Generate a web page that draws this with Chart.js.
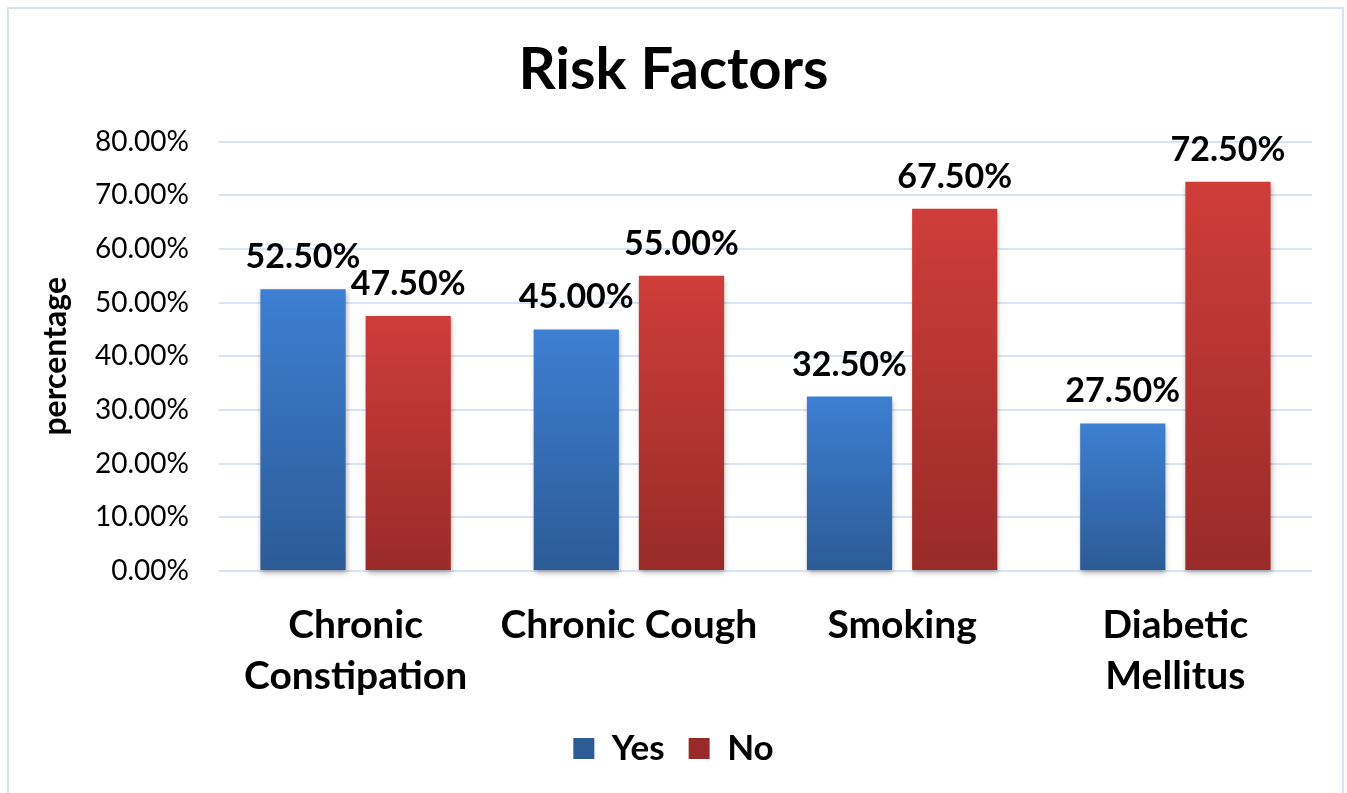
<!DOCTYPE html>
<html>
<head>
<meta charset="utf-8">
<script src="https://cdn.jsdelivr.net/npm/chart.js@4.4.1/dist/chart.umd.min.js"></script>
<style>
  html, body { margin: 0; padding: 0; background: #ffffff; }
  #frame {
    position: absolute; left: 7px; top: 7px; width: 1333px; height: 784px;
    border: 2px solid #d9e2f1; box-sizing: content-box;
  }
  #wrap { position: absolute; left: 0; top: 0; width: 1347px; height: 793px; }
</style>
</head>
<body>
<div id="frame"></div>
<div id="wrap"><canvas id="chart" width="1347" height="793"></canvas></div>
<script>
// Risk factor categories and the share of respondents answering Yes / No
const categories = [["Chronic", "Constipation"], "Chronic Cough", "Smoking", ["Diabetic", "Mellitus"]];
const yesValues = [52.5, 45.0, 32.5, 27.5];
const noValues = [47.5, 55.0, 67.5, 72.5];
const seriesNames = ["Yes", "No"];
const yTicks = [0, 10, 20, 30, 40, 50, 60, 70, 80];

const FONT = "Lato, 'Open Sans', sans-serif";

function fmt(v) { return v.toFixed(2) + "%"; }

// vertical gradient per bar, light at the top, darker toward the base
function barGradient(top, bottom, solid) {
  return function (ctx) {
    const chart = ctx.chart;
    if (ctx.type !== "data" || !chart.chartArea) return solid;
    const ys = chart.scales.y;
    const y0 = ys.getPixelForValue(ctx.raw);
    const y1 = ys.getPixelForValue(0);
    if (!isFinite(y0) || !isFinite(y1) || y0 === y1) return solid;
    const g = chart.ctx.createLinearGradient(0, y0, 0, y1);
    g.addColorStop(0, top);
    g.addColorStop(1, bottom);
    return g;
  };
}

// soft drop shadow under the bars
const barShadow = {
  id: "barShadow",
  beforeDatasetsDraw(chart) {
    const c = chart.ctx;
    c.save();
    c.shadowColor = "rgba(0,0,0,0.30)";
    c.shadowBlur = 5;
    c.shadowOffsetX = 1;
    c.shadowOffsetY = 3;
  },
  afterDatasetsDraw(chart) { chart.ctx.restore(); }
};

// value labels above each bar
const valueLabels = {
  id: "valueLabels",
  afterDatasetsDraw(chart) {
    const c = chart.ctx;
    c.save();
    c.font = "bold 34px " + FONT;
    c.fillStyle = "#000000";
    c.textAlign = "center";
    c.textBaseline = "alphabetic";
    chart.data.datasets.forEach((ds, i) => {
      const meta = chart.getDatasetMeta(i);
      meta.data.forEach((bar, j) => {
        c.fillText(fmt(ds.data[j]), bar.x, bar.y - 21);
      });
    });
    c.restore();
  }
};

new Chart(document.getElementById("chart"), {
  type: "bar",
  data: {
    labels: categories,
    datasets: [
      {
        label: seriesNames[0],
        data: yesValues,
        backgroundColor: barGradient("#3d7fd2", "#2c5b96", "#3570ba"),
        clip: false
      },
      {
        label: seriesNames[1],
        data: noValues,
        backgroundColor: barGradient("#cf3d39", "#982b29", "#bb3633"),
        clip: false
      }
    ]
  },
  options: {
    responsive: false,
    animation: false,
    events: [],
    datasets: { bar: { categoryPercentage: 0.77, barPercentage: 0.81 } },
    layout: { padding: { left: 35, right: 35, top: 0, bottom: 17 } },
    plugins: {
      title: {
        display: true,
        text: "Risk Factors",
        color: "#000000",
        font: { family: FONT, size: 58, weight: "bold", lineHeight: 1.2 },
        padding: { top: 35, bottom: 37 }
      },
      legend: {
        position: "bottom",
        labels: {
          color: "#000000",
          font: { family: FONT, size: 35, weight: "bold" },
          boxWidth: 21,
          boxHeight: 21,
          padding: 24
        }
      },
      tooltip: { enabled: false }
    },
    scales: {
      x: {
        grid: { display: false },
        border: { display: false },
        ticks: {
          color: "#000000",
          font: { family: FONT, size: 39, weight: "bold", lineHeight: 1.33 },
          padding: 20,
          maxRotation: 0,
          autoSkip: false
        },
        afterFit(scale) { scale.height = 136; }
      },
      y: {
        min: yTicks[0],
        max: yTicks[yTicks.length - 1],
        afterBuildTicks(scale) { scale.ticks = yTicks.map(v => ({ value: v })); },
        grid: { color: "#d9e3f2", lineWidth: 2, drawTicks: false },
        border: { display: false },
        ticks: {
          color: "#000000",
          font: { family: FONT, size: 28 },
          padding: 30,
          callback: v => fmt(v)
        },
        title: {
          display: true,
          text: "percentage",
          color: "#000000",
          font: { family: FONT, size: 32, weight: "bold" },
          padding: { top: 1, bottom: 0 }
        },
        afterFit(scale) { scale.width = 184; }
      }
    }
  },
  plugins: [barShadow, valueLabels]
});
</script>
</body>
</html>
